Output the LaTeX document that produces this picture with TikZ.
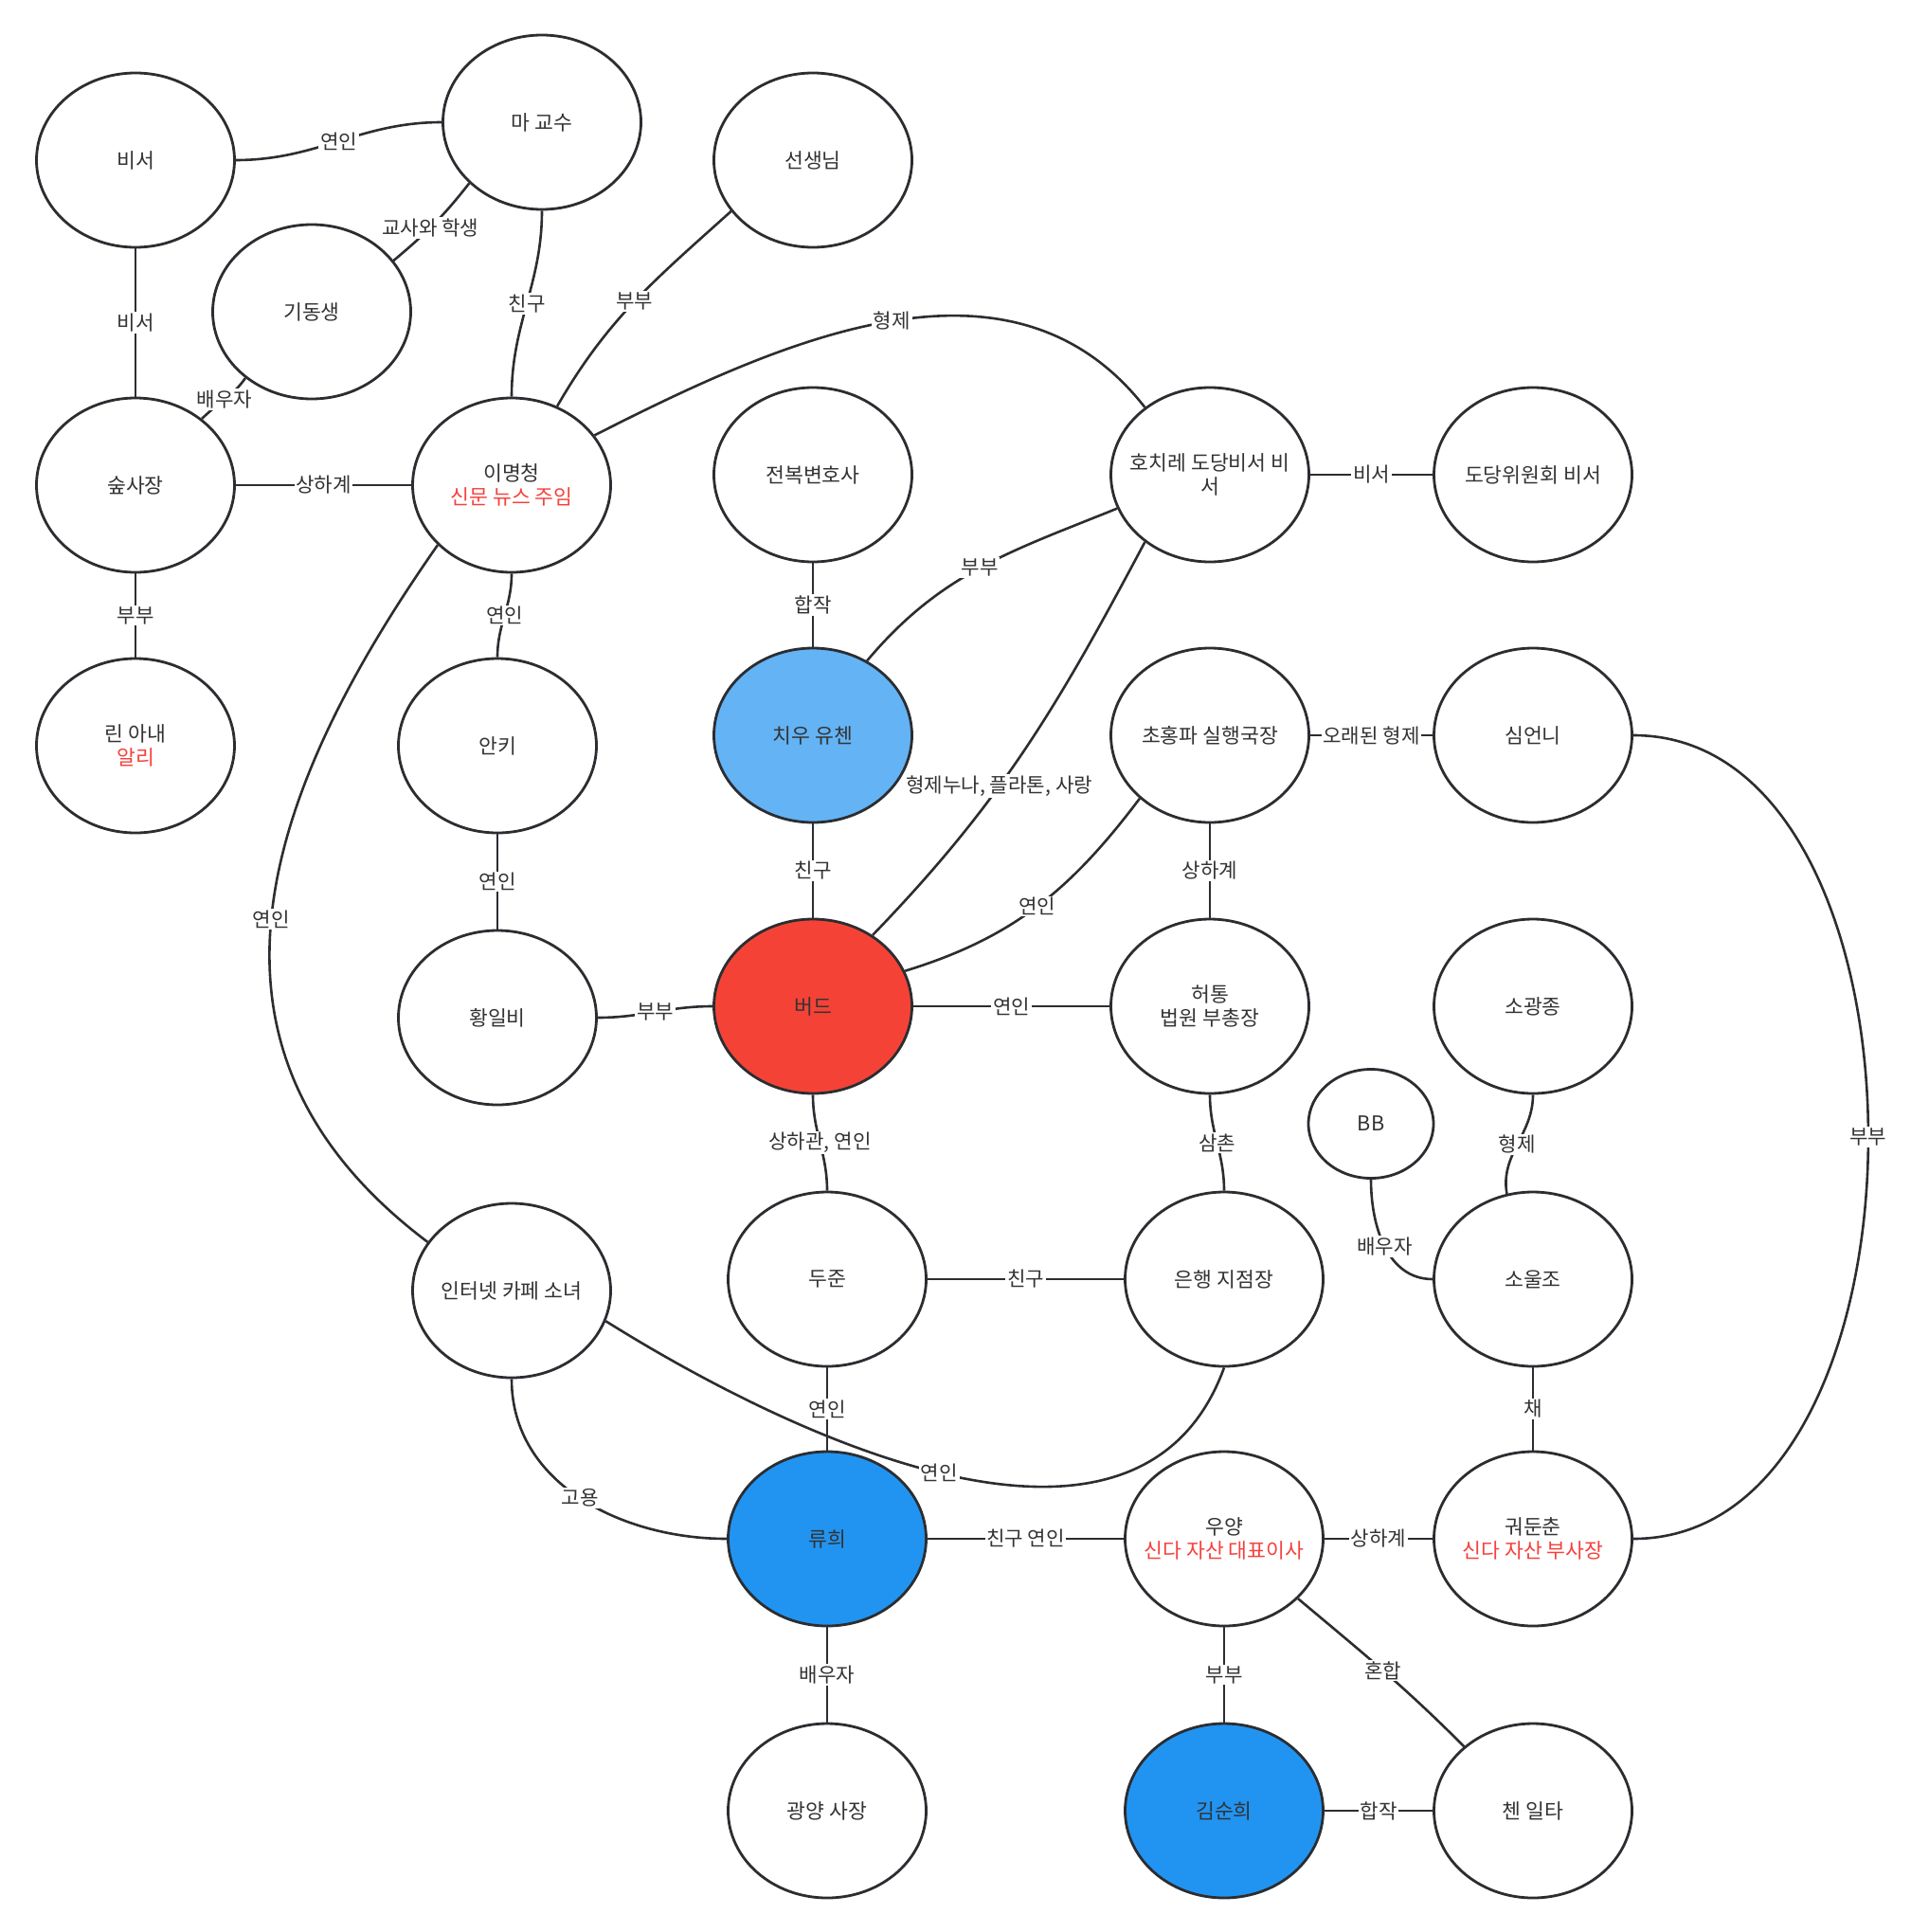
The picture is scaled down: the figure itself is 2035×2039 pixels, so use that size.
\documentclass[tikz,border=0pt]{standalone}
\usepackage{fontspec}
\setmainfont{Noto Sans CJK KR}
\usetikzlibrary{shapes.geometric}
\definecolor{inkline}{HTML}{2B2D31}
\definecolor{txtgray}{HTML}{333333}
\definecolor{redtxt}{HTML}{F5413C}
\definecolor{skyfill}{HTML}{63B3F5}
\definecolor{bluefill}{HTML}{2194F2}
\definecolor{redfill}{HTML}{F44336}
\begin{document}
\begin{tikzpicture}[x=0.5pt, y=-0.5pt,
  person/.style={ellipse, draw=inkline, line width=1.4pt, fill=white, minimum width=104.5pt, minimum height=92pt, inner xsep=-25pt, inner ysep=0pt, align=center, text=txtgray, font=\fontsize{10.8}{12.8}\selectfont},
  rel/.style={draw=inkline, line width=1.3pt},
  tag/.style={fill=white, inner sep=0.8pt, text=txtgray, font=\fontsize{10.6}{12}\selectfont}]
\useasboundingbox (0,0) rectangle (2035,2039);
% people
\node[person] (sec) at (143,169) {비서};
\node[person] (prof) at (572,129) {마 교수};
\node[person] (teacher) at (858,169) {선생님};
\node[person] (kid) at (329,329) {기동생};
\node[person] (boss) at (143,512) {숲사장};
\node[person] (lee) at (540,512) {이명청\\\textcolor{redtxt}{신문 뉴스 주임}};
\node[person] (lawyer) at (858,501) {전복변호사};
\node[person] (hochi) at (1277,501) {호치레 도당비서 비\\서};
\node[person] (partysec) at (1618,501) {도당위원회 비서};
\node[person] (linwife) at (143,787) {린 아내\\\textcolor{redtxt}{알리}};
\node[person] (anki) at (525,787) {안키};
\node[person, fill=skyfill] (chiu) at (858,776) {치우 유첸};
\node[person] (chohong) at (1277,776) {초홍파 실행국장};
\node[person] (simsis) at (1618,776) {심언니};
\node[person] (hwang) at (525,1074) {황일비};
\node[person, fill=redfill] (bird) at (858,1062) {버드};
\node[person] (hetong) at (1277,1062) {허통\\법원 부총장};
\node[person] (soguang) at (1618,1062) {소광종};
\node[person, minimum width=66pt, minimum height=57.5pt] (bb) at (1447,1186) {BB};
\node[person] (cafegirl) at (540,1362) {인터넷 카페 소녀};
\node[person] (dujun) at (873,1350) {두준};
\node[person] (bank) at (1292,1350) {은행 지점장};
\node[person] (soul) at (1618,1350) {소울조};
\node[person, fill=bluefill] (ryu) at (873,1624) {류희};
\node[person] (wooyang) at (1292,1624) {우양\\\textcolor{redtxt}{신다 자산 대표이사}};
\node[person] (guo) at (1618,1624) {궈둔춘\\\textcolor{redtxt}{신다 자산 부사장}};
\node[person] (gwang) at (873,1911) {광양 사장};
\node[person, fill=bluefill] (kim) at (1292,1911) {김순희};
\node[person] (chen) at (1618,1911) {첸 일타};
% relations
\draw[rel] (sec.east) to[out=0,in=180] node[tag] {연인} (prof.west);
\draw[rel] (prof.220) to[out=232,in=40] node[tag,pos=0.55] {교사와 학생} (kid.32);
\draw[rel] (sec.south) -- node[tag] {비서} (boss.north);
\draw[rel] (kid.225) to[out=235,in=45] node[tag] {배우자} (boss.45);
\draw[rel] (prof.south) to[out=-90,in=90] node[tag] {친구} (lee.north);
\draw[rel] (teacher.212) to[out=222,in=60] node[tag] {부부} (lee.60);
\draw[rel] (lee.31) to[out=27,in=128] node[tag] {형제} (hochi.134);
\draw[rel] (boss.east) -- node[tag] {상하계} (lee.west);
\draw[rel] (boss.south) -- node[tag] {부부} (linwife.north);
\draw[rel] (lee.south) to[out=-90,in=90] node[tag] {연인} (anki.north);
\draw[rel] (lee.219) to[out=235,in=143,looseness=1.15] node[tag] {연인} (cafegirl.150);
\draw[rel] (lawyer.south) -- node[tag] {합작} (chiu.north);
\draw[rel] (hochi.200) to[out=202,in=50] node[tag] {부부} (chiu.54);
\draw[rel] (hochi.east) -- node[tag] {비서} (partysec.west);
\draw[rel] (hochi.226) to[out=242,in=46] node[tag,pos=0.6] {형제누나, 플라톤, 사랑} (bird.50);
\draw[rel] (chohong.east) -- node[tag] {오래된 형제} (simsis.west);
\draw[rel] (chohong.222) to[out=233,in=17] node[tag] {연인} (bird.21);
\draw[rel] (chohong.south) -- node[tag] {상하계} (hetong.north);
\draw[rel] (simsis.east) to[out=0,in=0] node[tag] {부부} (guo.east);
\draw[rel] (anki.south) -- node[tag] {연인} (hwang.north);
\draw[rel] (chiu.south) -- node[tag] {친구} (bird.north);
\draw[rel] (hwang.east) to[out=0,in=180] node[tag] {부부} (bird.west);
\draw[rel] (bird.east) -- node[tag] {연인} (hetong.west);
\draw[rel] (bird.south) to[out=-90,in=90] node[tag] {상하관, 연인} (dujun.north);
\draw[rel] (hetong.south) to[out=-90,in=90] node[tag] {삼촌} (bank.north);
\draw[rel] (soguang.south) to[out=-90,in=100] node[tag] {형제} (soul.107);
\draw[rel] (bb.south) to[out=-90,in=180] node[tag] {배우자} (soul.west);
\draw[rel] (dujun.east) to[out=0,in=180] node[tag] {친구} (bank.west);
\draw[rel] (dujun.south) -- node[tag] {연인} (ryu.north);
\draw[rel] (cafegirl.south) to[out=-90,in=180] node[tag] {고용} (ryu.west);
\draw[rel] (cafegirl.-18) to[out=-32,in=-110] node[tag,pos=0.47] {연인} (bank.south);
\draw[rel] (soul.south) -- node[tag] {채} (guo.north);
\draw[rel] (ryu.east) -- node[tag] {친구 연인} (wooyang.west);
\draw[rel] (wooyang.east) -- node[tag] {상하계} (guo.west);
\draw[rel] (ryu.south) -- node[tag] {배우자} (gwang.north);
\draw[rel] (wooyang.south) -- node[tag] {부부} (kim.north);
\draw[rel] (wooyang.-39) to[out=-40,in=135] node[tag] {혼합} (chen.137);
\draw[rel] (kim.east) -- node[tag] {합작} (chen.west);
\end{tikzpicture}
\end{document}
